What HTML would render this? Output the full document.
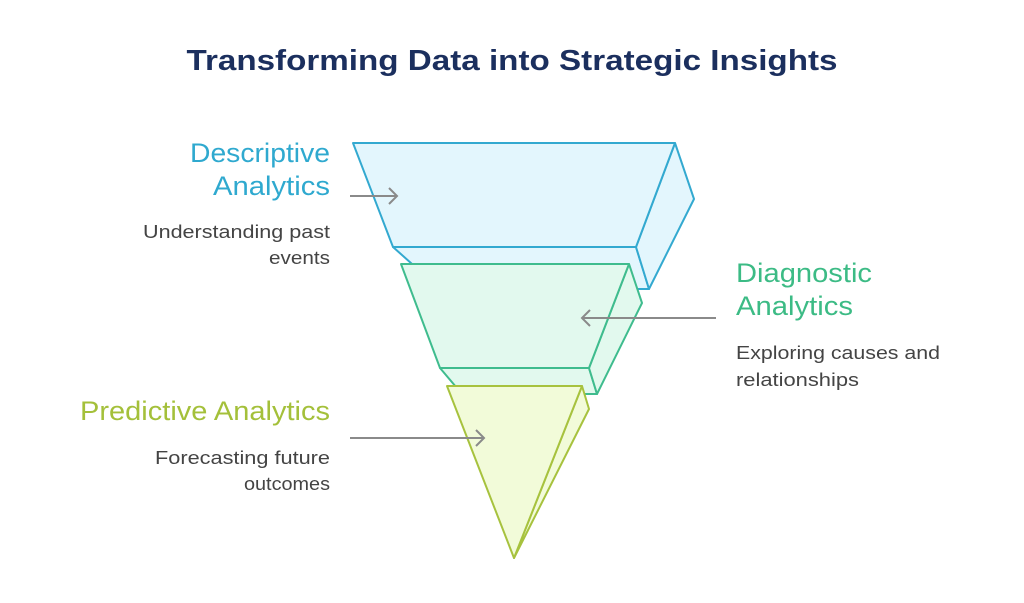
<!DOCTYPE html>
<html><head><meta charset="utf-8"><style>
html,body{margin:0;padding:0;background:#fff;width:1024px;height:603px;overflow:hidden}
svg{display:block}
</style></head><body>
<svg width="1024" height="603" viewBox="0 0 1024 603" xmlns="http://www.w3.org/2000/svg" font-family="Liberation Sans, sans-serif">
<text x="512" y="70" text-anchor="middle" font-size="29" font-weight="bold" fill="#1b2f5e" textLength="651" lengthAdjust="spacingAndGlyphs">Transforming Data into Strategic Insights</text>

<!-- blue block -->
<g stroke="#33a9d0" stroke-width="2" stroke-linejoin="round" fill="#e3f6fd">
<polygon points="393,247 636,247 649,289 440,289"/>
<polygon points="675,143 694,199 649,289 636,247"/>
<polygon points="353,143 675,143 636,247 393,247"/>
</g>
<!-- green block -->
<g stroke="#3fbc8e" stroke-width="2" stroke-linejoin="round" fill="#e2f9ee">
<polygon points="440,368 589,368 597,394 462,394"/>
<polygon points="629,264 642,303 597,394 589,368"/>
<polygon points="401,264 629,264 589,368 440,368"/>
</g>
<!-- yellow block -->
<g stroke="#a7c23e" stroke-width="2" stroke-linejoin="round" fill="#f2fbd9">
<polygon points="582,386 589,409 514,558"/>
<polygon points="447,386 582,386 514,558"/>
</g>

<!-- arrows -->
<g stroke="#8a8a8a" stroke-width="2" fill="none">
<line x1="350" y1="196" x2="397" y2="196"/><polyline points="389,188 397,196 389,204"/>
<line x1="716" y1="318" x2="582" y2="318"/><polyline points="590,310 582,318 590,326"/>
<line x1="350" y1="438" x2="484" y2="438"/><polyline points="476,430 484,438 476,446"/>
</g>

<g font-size="27" fill="#2fa9cf">
<text x="330" y="162" text-anchor="end" textLength="140" lengthAdjust="spacingAndGlyphs">Descriptive</text>
<text x="330" y="195" text-anchor="end" textLength="117" lengthAdjust="spacingAndGlyphs">Analytics</text>
</g>
<g font-size="18" fill="#444">
<text x="330" y="238" text-anchor="end" textLength="187" lengthAdjust="spacingAndGlyphs">Understanding past</text>
<text x="330" y="264" text-anchor="end" textLength="61" lengthAdjust="spacingAndGlyphs">events</text>
</g>

<g font-size="27" fill="#3cbb85">
<text x="736" y="282" textLength="136" lengthAdjust="spacingAndGlyphs">Diagnostic</text>
<text x="736" y="315" textLength="117" lengthAdjust="spacingAndGlyphs">Analytics</text>
</g>
<g font-size="18" fill="#444">
<text x="736" y="359" textLength="204" lengthAdjust="spacingAndGlyphs">Exploring causes and</text>
<text x="736" y="386" textLength="123" lengthAdjust="spacingAndGlyphs">relationships</text>
</g>

<g font-size="27" fill="#a4c03a">
<text x="330" y="420" text-anchor="end" textLength="250" lengthAdjust="spacingAndGlyphs">Predictive Analytics</text>
</g>
<g font-size="18" fill="#444">
<text x="330" y="464" text-anchor="end" textLength="175" lengthAdjust="spacingAndGlyphs">Forecasting future</text>
<text x="330" y="490" text-anchor="end" textLength="86" lengthAdjust="spacingAndGlyphs">outcomes</text>
</g>
</svg>
</body></html>
